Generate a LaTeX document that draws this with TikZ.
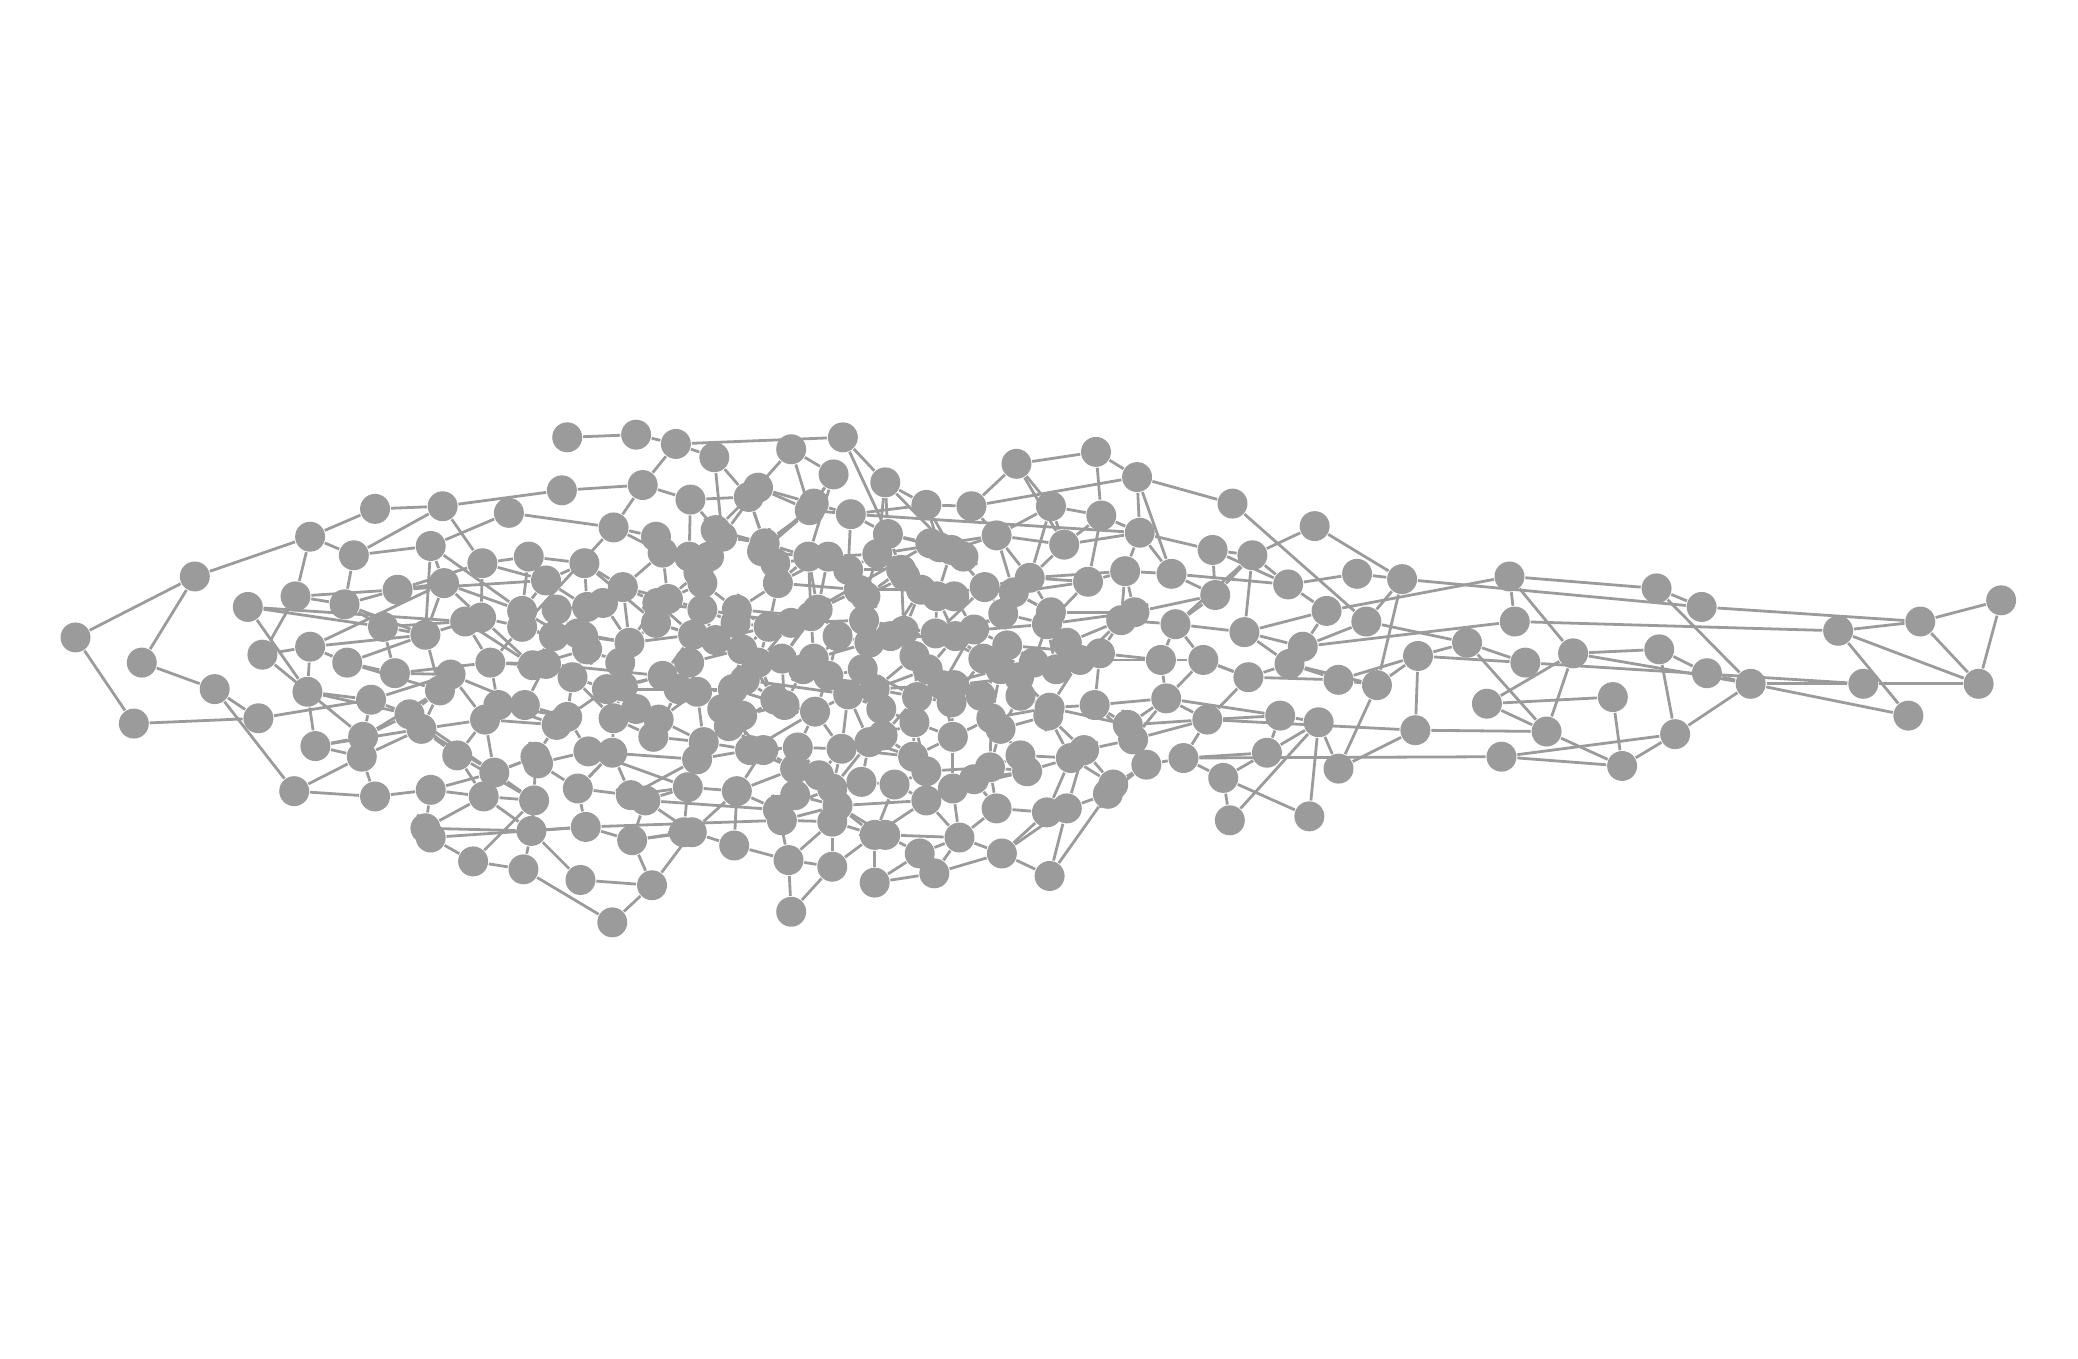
\documentclass[tikz,border=0pt]{standalone}
\usetikzlibrary{backgrounds}
\definecolor{nodegray}{RGB}{155,155,155}
\definecolor{linkgray}{RGB}{155,155,155}
\tikzset{
  vtx/.style={circle, fill=nodegray, draw=none, minimum size=2.26mm, inner sep=0pt},
  link/.style={draw=linkgray, line width=0.6pt}
}
\begin{document}
\begin{tikzpicture}[x=0.1mm, y=-0.1mm]
    \useasboundingbox (0,0) rectangle (1568,1025);

    % Vertices (left wing)
    \foreach \i/\x/\y in {1/57/481, 2/147/435, 3/107/500, 4/101/546, 5/162/520, 6/195/542,
      7/234/405, 8/283/384, 9/334/382, 10/384/387, 11/424/370, 12/267/419, 13/187/458,
      14/198/494, 15/223/450, 16/234/488, 17/260/456, 18/262/500, 19/232/522, 20/238/563,
      21/222/597, 22/283/601, 23/274/556, 24/273/571, 25/280/528, 26/298/508, 27/289/473,
      28/300/445, 29/325/412, 30/335/440, 31/364/425, 32/399/420, 33/441/425, 34/412/438,
      35/321/479, 36/351/469, 37/363/466, 38/394/461, 39/394/473, 40/370/500, 41/340/509,
      42/332/521, 43/309/539, 44/318/550, 45/345/570, 46/325/596, 47/365/601, 48/321/625,
      49/325/632, 50/357/650, 51/395/656, 52/438/664, 53/462/696, 54/492/668, 55/401/627,
      56/403/604, 57/373/583, 58/366/543, 59/376/532, 60/396/532, 61/402/502, 62/412/501,
      63/432/511, 64/443/490, 65/443/458, 66/463/398, 67/485/366, 68/521/377, 69/565/375,
      70/572/368, 71/428/330, 72/480/328, 73/510/335, 74/539/345, 75/597/339, 76/636/330,
      77/629/358, 78/668/364, 79/611/385, 80/614/380, 81/642/388, 82/699/381, 83/733/382,
      84/767/350, 85/827/341, 86/858/360, 87/930/380, 88/992/397, 89/793/382, 90/831/389,
      91/860/402, 92/803/411, 93/752/404, 94/718/415, 95/709/413, 96/670/403}
      \node[vtx] (n\i) at (\x,\y) {};

    % Vertices (dense middle)
    \foreach \i/\x/\y in {97/495/405, 98/500/417, 99/470/443, 100/496/455, 101/520/420,
      102/545/405, 103/535/420, 104/577/410, 105/575/416, 106/610/420, 107/625/420,
      108/640/430, 109/662/418, 110/680/430, 111/587/440, 112/556/460, 113/530/440,
      114/527/432, 115/555/470, 116/504/452, 117/495/470, 118/475/485, 119/468/500,
      120/470/518, 121/463/542, 122/493/556, 123/462/568, 124/436/595, 125/442/624,
      126/476/600, 127/487/604, 128/477/634, 129/516/628, 130/522/628, 131/554/638,
      132/519/594, 133/526/573, 134/531/560, 135/550/548, 136/556/597, 137/587/611,
      138/590/619, 139/595/649, 140/597/688, 141/628/654, 142/628/620, 143/628/595,
      144/632/608, 145/660/666, 146/660/630, 147/668/630, 148/694/644, 149/705/659,
      150/724/632, 151/756/644, 152/792/661, 153/752/610, 154/790/613, 155/805/610,
      156/836/599, 157/840/592, 158/865/577, 159/893/572, 160/923/587, 161/928/619,
      162/988/616, 163/956/568, 164/966/540, 165/995/545, 166/1010/580}
      \node[vtx] (n\i) at (\x,\y) {};

    % Vertices (right wing)
    \foreach \i/\x/\y in {167/1068/551, 168/1133/571, 169/1167/552, 170/1224/578,
      171/1264/554, 172/1217/526, 173/1122/531, 174/1151/500, 175/1187/493, 176/1252/490,
      177/1288/508, 178/1321/516, 179/1406/516, 180/1440/540, 181/1493/516, 182/1510/453,
      183/1449/469, 184/1387/476, 185/1284/458, 186/1250/444, 187/1143/469, 188/1139/435,
      189/1107/485, 190/1070/495, 191/1058/437, 192/1024/433, 193/1031/469, 194/1039/517,
      195/1010/513, 196/1001/461, 197/972/441, 198/983/488, 199/973/501, 200/942/511,
      201/939/477, 202/945/419, 203/915/415, 204/917/449, 205/887/471, 206/908/498,
      207/876/498, 208/880/527, 209/911/543, 210/884/433, 211/849/431, 212/856/462,
      213/846/468, 214/821/439, 215/830/493, 216/815/498, 217/797/505, 218/790/471,
      219/793/462, 220/777/436, 221/765/447, 222/743/443, 223/757/463, 224/760/487,
      225/769/511, 226/755/505, 227/742/497, 228/721/480, 229/707/450, 230/695/445}
      \node[vtx] (n\i) at (\x,\y) {};

    % Vertices (core)
    \foreach \i/\x/\y in {231/682/476, 232/690/495, 233/720/517, 234/718/530, 235/692/526,
      236/690/545, 237/719/556, 238/748/542, 239/755/550, 240/791/540, 241/792/534,
      242/826/532, 243/851/547, 244/855/558, 245/818/566, 246/808/572, 247/770/570,
      248/775/582, 249/747/579, 250/735/588, 251/719/595, 252/699/604, 253/689/571,
      254/666/555, 255/656/560, 256/635/565, 257/618/585, 258/602/564, 259/600/580,
      260/576/566, 261/566/566, 262/615/537, 263/592/532, 264/585/528, 265/572/500,
      266/590/497, 267/614/497, 268/625/510, 269/651/505, 270/656/485, 271/652/468,
      272/653/450, 273/648/445, 274/617/460, 275/612/465, 276/580/473, 277/560/490,
      278/540/483, 279/523/479, 280/500/510, 281/512/520, 282/526/522, 283/553/520,
      284/562/513, 285/640/524, 286/660/520, 287/700/505, 288/672/480, 289/706/478,
      290/735/475, 291/711/517, 292/675/592, 293/699/582, 294/545/535, 295/428/541,
      296/420/547, 297/404/571, 298/406/576, 299/444/567, 300/497/543, 301/458/520,
      302/440/480, 303/418/480, 304/420/460, 305/436/478, 306/530/460, 307/597/470,
      308/702/410, 309/683/435, 310/727/420, 311/606/505, 312/632/480, 313/665/535,
      314/560/540, 315/740/525, 316/770/525, 317/600/600, 318/650/590, 319/520/500,
      320/480/535, 321/540/400, 322/585/425, 323/720/450, 324/805/485, 325/780/500,
      326/455/455}
      \node[vtx] (n\i) at (\x,\y) {};

    \begin{scope}[on background layer]
    % Edges (left wing)
    \foreach \a/\b in {1/2, 1/4, 2/3, 2/7, 3/5, 4/6, 5/6, 5/21, 6/25, 7/8, 7/12, 7/15,
      8/9, 9/11, 9/12, 9/31, 10/29, 10/66, 11/67, 12/29, 13/27, 13/19, 14/15, 14/23,
      15/17, 16/30, 16/18, 17/28, 18/35, 18/26, 19/25, 19/20, 20/23, 20/24, 21/22, 22/24,
      22/46, 23/43, 24/44, 25/41, 25/43, 26/41, 27/36, 28/34, 29/35, 29/38, 30/37, 31/32,
      32/33, 33/99, 34/38, 35/37, 35/42, 36/61, 37/39, 38/64, 39/40, 40/59, 41/60, 42/43,
      43/57, 44/45, 44/58, 45/56, 45/47, 46/47, 46/48, 47/48, 47/55, 48/55, 49/125, 48/49,
      49/50, 50/56, 50/51, 51/55, 51/53, 52/55, 52/54, 53/54, 54/128, 54/130, 55/125,
      55/56, 56/57, 56/297, 57/58, 58/296, 59/60, 60/62, 61/62, 61/303, 62/63, 63/64,
      63/301, 64/305, 65/304, 66/39, 66/67, 67/68, 67/73, 68/69, 69/70, 70/79, 71/72,
      72/73, 73/76, 73/74, 74/69, 69/75, 75/79, 75/77, 77/80, 79/81, 80/81, 81/82, 82/83,
      83/86, 83/93, 84/85, 84/92, 85/86, 86/87, 86/210, 87/193, 88/202, 88/191, 89/90,
      89/92, 89/220, 90/91, 91/210, 92/93, 93/94, 94/95, 95/96, 96/109, 76/96, 78/82,
      78/94, 81/91, 109/93, 19/43, 20/44, 23/42, 16/35, 17/27, 36/37, 38/39, 40/61,
      41/42, 43/44, 58/59, 59/296, 60/295, 62/303, 64/65, 65/33, 34/65, 31/34, 30/35,
      28/30, 27/35, 26/40}
      \draw[link] (n\a) -- (n\b);

    % Edges (left wing, more)
    \foreach \a/\b in {13/36, 15/28, 16/19, 17/35, 18/42, 26/27, 12/17, 14/16, 21/24,
      23/25, 28/31, 29/30, 30/38, 31/37, 32/38, 33/34, 36/40, 37/61, 39/64, 40/62, 41/58,
      42/44, 43/45, 44/57, 45/58, 46/57, 47/56, 57/297, 58/60, 59/295, 61/64, 63/295,
      64/302, 65/99, 99/118}
      \draw[link] (n\a) -- (n\b);

    % Edges (lower middle)
    \foreach \a/\b in {124/126, 124/123, 125/128, 125/138, 126/127, 126/132, 127/128,
      127/130, 127/137, 128/130, 129/130, 130/131, 130/136, 131/139, 132/133, 133/134,
      134/135, 135/294, 136/137, 137/138, 137/139, 138/142, 139/140, 139/141, 140/141,
      139/142, 141/142, 142/143, 143/144, 144/146, 145/146, 145/148, 146/147, 147/148,
      148/149, 148/150, 149/150, 150/151, 150/153, 151/152, 151/155, 152/156, 153/154,
      154/155, 155/156, 156/157, 157/158, 158/159, 159/160, 159/168, 159/163, 160/161,
      160/162, 163/164, 164/165, 164/209, 165/162, 165/161, 165/166, 166/167, 166/194,
      167/169, 167/190, 167/209}
      \draw[link] (n\a) -- (n\b);

    % Edges (right wing)
    \foreach \a/\b in {168/170, 168/171, 169/170, 169/189, 169/175, 170/171, 170/172,
      172/173, 171/176, 171/178, 173/175, 174/189, 174/179, 175/176, 175/188, 175/178,
      177/178, 178/179, 178/180, 178/186, 179/181, 180/184, 181/182, 181/183, 181/184,
      182/183, 183/184, 183/185, 184/187, 185/191, 186/188, 188/196, 189/190, 189/193,
      190/194, 190/195, 190/174, 191/192, 191/193, 191/194, 192/197, 193/198, 195/200,
      196/197, 197/202, 197/210, 198/199, 198/201, 187/198, 199/200, 200/206, 201/202,
      201/205, 202/205, 203/204, 203/202, 204/205, 205/206, 206/207, 207/208, 208/209,
      209/243, 210/211, 211/214, 211/212, 212/213, 213/215, 214/218, 211/213, 212/218,
      213/216, 215/217, 204/212, 203/91, 202/204, 199/194, 198/196, 207/215, 208/242,
      194/195, 195/199, 196/201, 197/203, 200/209}
      \draw[link] (n\a) -- (n\b);

    % Edges (core)
    \foreach \a/\b in {97/98, 97/101, 98/99, 99/100, 100/116, 101/102, 101/113, 102/104,
      103/114, 104/105, 105/106, 106/107, 107/108, 108/109, 109/110, 110/309, 111/112,
      111/105, 112/113, 112/115, 114/116, 115/276, 116/117, 117/118, 118/119, 119/120,
      120/121, 121/122, 121/123, 122/300, 123/299, 215/216, 216/217, 217/218, 218/219,
      219/220, 220/221, 221/222, 222/223, 223/224, 224/225, 225/226, 226/227, 227/228,
      228/229, 229/230, 230/231, 231/232, 233/234, 234/235, 235/236, 236/237, 237/238,
      238/239, 239/240, 240/241, 241/242, 242/243, 243/244, 244/245, 245/246, 246/247,
      247/248, 248/249, 249/250, 250/251, 251/252, 252/292, 292/293, 293/253, 253/254,
      254/255, 255/256, 256/257, 257/258, 258/259, 259/260, 260/261, 261/262, 262/263,
      263/264, 264/265, 265/266, 266/267, 267/268, 268/269, 269/270, 270/271, 271/272,
      272/273, 273/274, 274/275, 275/276, 276/277, 277/278, 278/279, 279/280, 280/281,
      281/282, 282/283, 283/284, 284/285, 285/286, 286/287, 287/288, 288/289, 289/290,
      290/291, 302/303, 303/304, 304/305, 305/302, 295/296, 296/297, 297/298, 298/299,
      299/295, 300/301, 301/295, 306/307, 307/308, 308/310, 310/94, 309/230}
      \draw[link] (n\a) -- (n\b);

    % Edges (core, crossing)
    \foreach \a/\b in {100/306, 306/115, 306/278, 113/114, 113/306, 111/276, 111/107,
      104/111, 106/275, 107/274, 108/273, 109/272, 110/229, 96/308, 95/310, 94/222,
      93/221, 92/220, 91/211, 90/214, 220/214, 221/219, 222/289, 223/290, 224/217,
      225/233, 226/291, 227/289, 228/288, 230/288, 231/271, 232/287, 233/287, 234/291,
      235/286, 236/254, 237/253, 238/241, 239/249, 240/246, 241/216, 242/215, 243/208,
      244/158, 245/157, 246/248, 247/239, 248/250, 249/293, 250/153, 251/150, 252/144,
      292/146, 293/236, 253/255, 254/286, 255/143, 256/262, 257/143, 258/261, 259/137,
      260/136, 261/135, 262/285, 263/283, 264/277, 265/307, 266/275, 267/270, 268/286,
      269/235, 270/288, 271/307, 272/110, 273/108, 274/106, 275/267, 276/265, 277/284,
      278/112, 279/117, 280/120, 281/301, 282/134, 283/294, 284/266, 285/256, 286/291,
      287/228, 288/232, 289/218, 290/224, 291/237, 300/134, 301/121, 302/65, 303/39,
      304/34, 305/118, 299/133, 298/124, 297/57, 126/123, 132/299, 133/261, 134/264,
      122/281, 119/64, 120/301, 118/279, 117/100, 116/113, 115/112, 114/103, 105/79,
      104/69, 102/70, 101/68, 98/66, 97/66, 99/65, 100/118, 63/121, 62/280, 33/117,
      76/78, 78/96, 77/106, 81/96, 82/95, 80/105, 79/104, 206/200, 205/207, 201/199}
      \draw[link] (n\a) -- (n\b);

    % Edges (core, denser mesh)
    \foreach \a/\b in {97/113, 98/116, 99/116, 100/279, 101/103, 103/113, 104/106,
      106/111, 107/109, 108/110, 109/96, 110/231, 112/276, 115/277, 116/306, 117/279,
      118/302, 119/301, 120/280, 121/300, 122/134, 123/124, 124/125, 126/133, 127/132,
      128/129, 129/132, 131/136, 132/136, 134/261, 135/260, 136/259, 137/143, 138/144,
      141/146, 142/146, 143/256, 144/147, 145/149, 146/252, 147/150, 149/151, 150/252,
      151/154, 152/155, 153/249, 154/246, 155/245, 156/158, 157/246, 158/243, 159/209,
      160/163, 163/165, 164/208, 231/270, 232/235, 233/291, 234/237, 235/254, 236/253,
      237/251, 238/249, 239/247, 240/245, 241/243, 242/244, 247/249, 248/251, 250/252,
      253/256, 254/269, 255/285, 256/258, 257/259, 258/262, 259/261, 260/294, 261/283,
      262/268, 263/266, 264/284, 265/277, 266/274, 267/271, 268/285, 269/286, 270/273,
      271/289, 272/309, 273/111, 274/307, 275/112, 276/278, 277/283, 278/306, 279/281,
      280/301, 281/283, 282/300, 283/135, 284/265, 285/269, 286/232, 287/233, 288/231,
      289/229, 290/227, 291/235, 205/213, 206/208, 207/216, 208/244, 209/244, 210/204,
      211/220, 212/219, 214/221, 215/224, 216/225, 217/226, 218/223, 219/221, 220/222,
      221/223, 222/229, 223/228, 224/227, 225/241, 226/238, 227/234, 228/290, 229/309,
      230/273, 68/102, 69/104, 70/80, 74/102, 77/79, 78/109, 81/108, 82/94, 83/84,
      84/89, 85/90, 86/91, 89/93, 90/92, 91/92, 93/220, 94/229, 95/308, 96/110,
      186/185, 187/188, 176/177, 173/169}
      \draw[link] (n\a) -- (n\b);

    % Edges (added vertices)
    \foreach \a/\b in {311/267, 311/263, 311/286, 312/270, 312/274, 312/268, 313/285,
      313/236, 313/254, 314/294, 314/261, 314/263, 315/233, 315/238, 315/226, 316/225,
      316/241, 316/239, 317/259, 317/144, 317/137, 318/292, 318/143, 318/255, 319/279,
      319/282, 319/277, 320/121, 320/300, 320/120, 321/102, 321/70, 321/104, 322/105,
      322/111, 322/107, 323/229, 323/222, 323/290, 324/217, 324/213, 324/215, 325/224,
      325/218, 325/217, 326/65, 326/99, 326/118}
      \draw[link] (n\a) -- (n\b);
    \end{scope}
\end{tikzpicture}
\end{document}
